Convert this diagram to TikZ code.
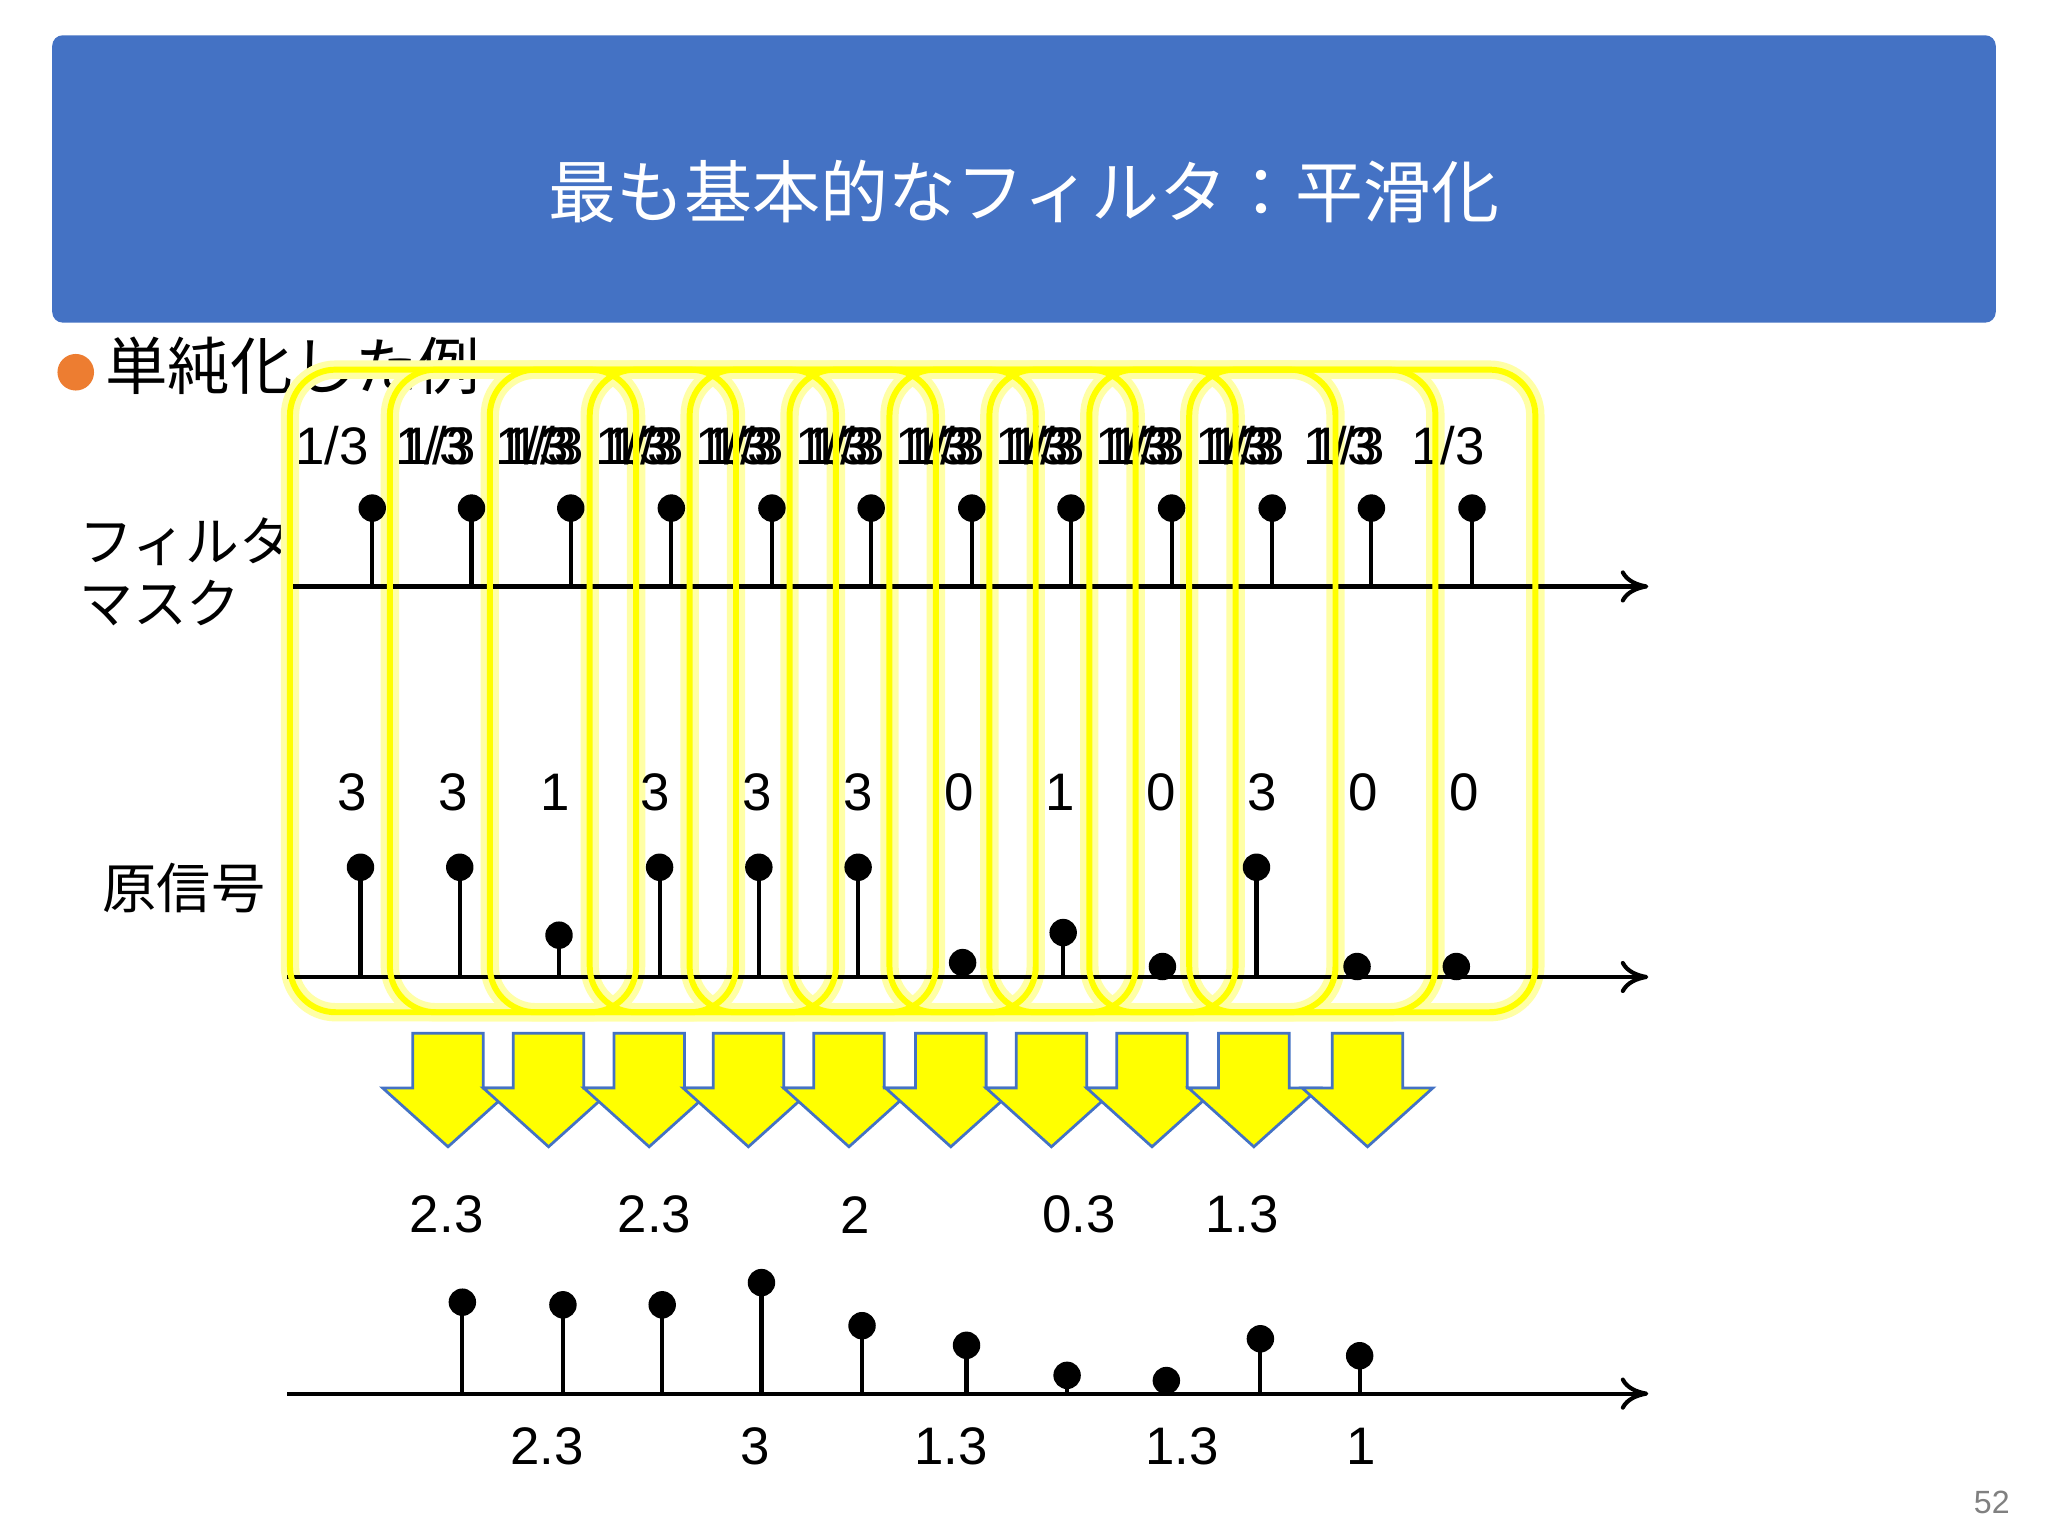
\documentclass[tikz,border=0pt]{standalone}
\usepackage{fontspec}
\setmainfont{Liberation Sans}
\newfontfamily\cjk{Noto Sans CJK JP}
\usetikzlibrary{arrows.meta}
\definecolor{hdr}{HTML}{4472C4}
\definecolor{bul}{HTML}{ED7D31}
\definecolor{win}{HTML}{FFFF00}
\tikzset{
  axis/.style={line width=0.9pt,-{To[length=6pt,width=7pt]}},
  stem/.style={line width=0.9pt},
  dotc/.style={circle,fill=black,inner sep=0pt,minimum size=0.21cm},
  val/.style={font=\fontsize{11.5}{11.5}\selectfont,inner sep=0pt},
  winbox/.style={draw=win,line width=1.3pt,rounded corners=0.35cm},
  winglow/.style={draw=win!35,line width=4pt,rounded corners=0.35cm},
  darrow/.style={fill=win,draw=hdr,line width=0.6pt},
}
\begin{document}
\begin{tikzpicture}[x=0.01cm,y=-0.01cm]
\useasboundingbox (0,0) rectangle (1568,1176);
\fill[white] (0,0) rectangle (1568,1176);
% header
\fill[hdr,rounded corners=0.08cm] (40,27) rectangle (1528,247);
\node[text=white,font=\cjk\fontsize{14.8}{15}\selectfont] (title) at (784,147) {最も基本的なフィルタ：平滑化};
\fill[bul] (58,285) circle (14);
\node[anchor=west,font=\cjk\fontsize{13.6}{14}\selectfont,inner sep=0pt] (sub) at (80,280) {単純化した例};
\node[anchor=west,font=\cjk\fontsize{11.7}{13.5}\selectfont,align=left,inner sep=0pt] (fm) at (60,438) {フィルタ\\マスク};
\node[anchor=west,font=\cjk\fontsize{11.8}{12}\selectfont,inner sep=0pt] (os) at (78,680) {原信号};
% windows glow
\foreach \k in {0,...,9}{
  \draw[winglow] (222+76.5*\k,283) rectangle (487+76.5*\k,775);
}
% axes
\coordinate (a1s) at (220,449); \coordinate (a1e) at (1262,449);
\coordinate (a2s) at (220,748); \coordinate (a2e) at (1262,748);
\coordinate (a3s) at (220,1067); \coordinate (a3e) at (1262,1067);
\draw[axis] (a1s) -- (a1e);
\draw[axis] (a2s) -- (a2e);
\draw[axis] (a3s) -- (a3e);
% filter mask stems
\foreach \x [count=\i] in {285,361,437,514,591,667,744,820,897,974,1050,1127}{
  \node[dotc] (m\i) at (\x,389) {};
  \draw[stem] (m\i.center) -- (\x,449);
}
% 1/3 labels, one set per window
\foreach \k in {0,...,9}{
  \foreach \j in {0,1,2}{
    \node[val] at (260+76.6*\k+76.6*\j+6*\j-6,341) {1/3};
  }
}
% signal
\foreach \x/\t [count=\i] in {276/664,352/664,428/716,505/664,581/664,657/664,737/737,814/714,890/740,962/664,1039/740,1115/740}{
  \node[dotc] (s\i) at (\x,\t) {};
  \draw[stem] (s\i.center) -- (\x,748);
}
\foreach \x/\v in {270/3,347/3,425/1,502/3,580/3,657/3,734/0,812/1,889/0,966/3,1044/0,1121/0}{
  \node[val] at (\x,607) {\v};
}
% windows
\foreach \k in {0,...,9}{
  \draw[winbox] (222+76.5*\k,283) rectangle (487+76.5*\k,775);
}
% arrows
\foreach \c in {343,420,497,573,650,728,805,882,960,1047}{
  \draw[darrow] (\c-27,791) -- (\c+27,791) -- (\c+27,833) -- (\c+50,833) -- (\c,878) -- (\c-50,833) -- (\c-27,833) -- cycle;
}
% output
\foreach \x/\t [count=\i] in {354/997,431/999,507/999,583/982,660/1015,740/1030,817/1053,893/1057,965/1025,1041/1038}{
  \node[dotc] (o\i) at (\x,\t) {};
  \draw[stem] (o\i.center) -- (\x,1067);
}
\foreach \x/\v in {342/2.3,501/2.3,655/2,826/0.3,951/1.3}{
  \node[val] at (\x,930) {\v};
}
\foreach \x/\v in {419/2.3,578/3,728/1.3,905/1.3,1042/1}{
  \node[val] at (\x,1107) {\v};
}
\node[text=gray,font=\fontsize{7}{7}\selectfont] (pg) at (1525,1150) {52};
\end{tikzpicture}
\end{document}
